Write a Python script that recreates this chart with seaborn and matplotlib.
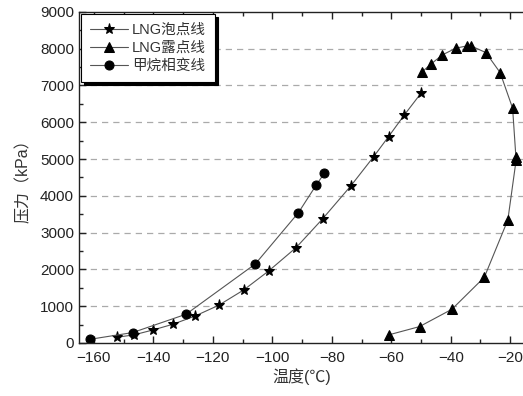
import numpy as np
import pandas as pd
from matplotlib import pyplot as plt
from matplotlib.ticker import MultipleLocator
import seaborn as sns

# LNG bubble point line
bubble_t = [-152.2, -146.6, -140.1, -133.4, -125.9, -118.0, -109.6, -101.2,
            -92.0, -83.1, -73.6, -65.9, -60.9, -55.6, -50.0]
bubble_p = [155, 218, 353, 508, 734, 1025, 1441, 1958,
            2591, 3372, 4269, 5066, 5610, 6199, 6789]

# LNG dew point line (in curve order)
dew_t = [-60.9, -50.5, -39.6, -28.7, -20.8, -18.0, -18.1, -19.2,
         -23.4, -28.2, -33.2, -34.6, -38.3, -42.8, -46.7, -49.5]
dew_p = [218, 444, 916, 1786, 3344, 4980, 5066, 6382,
         7350, 7894, 8075, 8075, 8013, 7831, 7578, 7377]

# methane phase change line
ch4_t = [-161.2, -147.0, -129.0, -105.7, -91.2, -85.2, -82.5]
ch4_p = [100, 281, 780, 2148, 3543, 4296, 4614]

sns.set_style("ticks")
plt.rcParams['font.family'] = ['Liberation Sans', 'Noto Sans CJK SC', 'DejaVu Sans']

fig = plt.figure(figsize=(5.23, 3.96), dpi=100)
ax = fig.add_axes([0.151, 0.134, 0.853, 0.836])

df_b = pd.DataFrame({'t': bubble_t, 'p': bubble_p})
df_d = pd.DataFrame({'t': dew_t, 'p': dew_p})
df_c = pd.DataFrame({'t': ch4_t, 'p': ch4_p})

line_kw = dict(color='#555555', linewidth=0.8, markerfacecolor='black',
               markeredgecolor='black', sort=False, estimator=None, ax=ax)
sns.lineplot(data=df_b, x='t', y='p', marker='*', markersize=8, label='LNG泡点线', **line_kw)
sns.lineplot(data=df_d, x='t', y='p', marker='^', markersize=7, label='LNG露点线', **line_kw)
sns.lineplot(data=df_c, x='t', y='p', marker='o', markersize=6.5, label='甲烷相变线', **line_kw)

ax.set_xlim(-165, -15)
ax.set_ylim(0, 9000)
ax.xaxis.set_major_locator(MultipleLocator(20))
ax.xaxis.set_minor_locator(MultipleLocator(10))
ax.yaxis.set_major_locator(MultipleLocator(1000))
ax.yaxis.set_minor_locator(MultipleLocator(500))
ax.tick_params(which='both', direction='in', top=True, right=False, labelsize=11, colors='#222222')
ax.tick_params(which='major', length=5, width=1)
ax.tick_params(which='minor', length=3, width=1)
ax.tick_params(axis='x', pad=6)
for s in ax.spines.values():
    s.set_color('#222222')
    s.set_linewidth(1)

for yv in range(1000, 9000, 1000):
    ax.axhline(yv, color='#aaaaaa', linestyle=(0, (5, 4)), linewidth=0.9, zorder=0)

ax.set_xlabel('温度(℃)', fontsize=11.5, color='#333333', labelpad=2)
ax.set_ylabel('压力（kPa）', fontsize=11.5, color='#333333', labelpad=7)

leg = ax.legend(loc='upper left', fontsize=10.5, frameon=True, fancybox=False,
                shadow={'color': 'black', 'alpha': 1}, borderaxespad=0.15,
                handlelength=2.6, handletextpad=0.3, labelspacing=0.28, borderpad=0.6)
leg.get_frame().set_edgecolor('black')
leg.get_frame().set_linewidth(0.8)
leg.get_frame().set_alpha(1)
for txt in leg.get_texts():
    txt.set_color('#333333')

plt.savefig('out.png', dpi=100)
